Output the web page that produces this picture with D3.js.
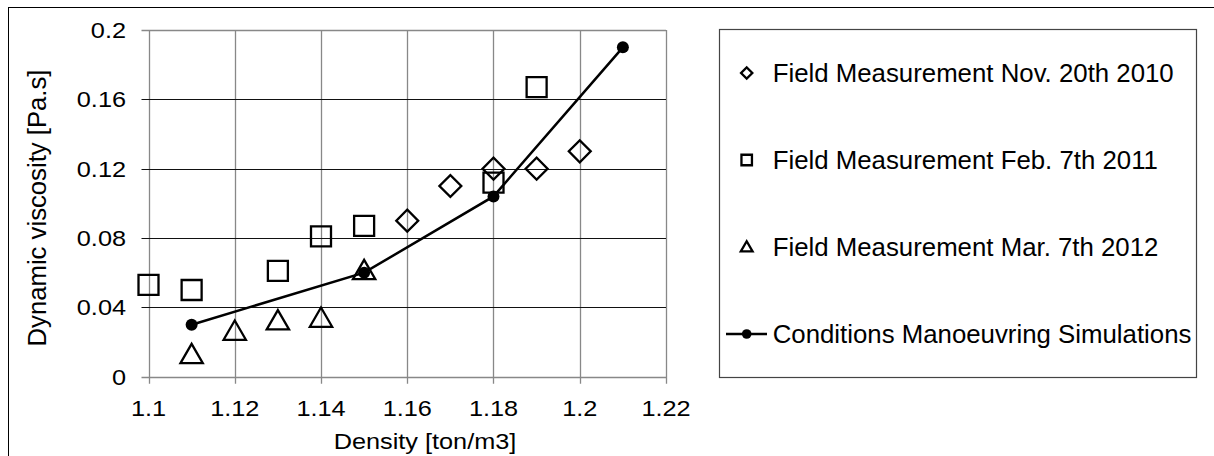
<!DOCTYPE html>
<html>
<head>
<meta charset="utf-8">
<script src="https://cdn.jsdelivr.net/npm/d3@7"></script>
<style>
  body { margin: 0; background: #fff; }
  svg { display: block; font-family: 'Liberation Sans', Arial, sans-serif; }
</style>
</head>
<body>
<div id="chart"></div>
<script>
// data
const nov2010 = [[1.16, 0.09], [1.17, 0.11], [1.18, 0.12], [1.19, 0.12], [1.2, 0.13]];
const feb2011 = [[1.1, 0.053], [1.11, 0.05], [1.13, 0.061], [1.14, 0.081], [1.15, 0.087], [1.18, 0.112], [1.19, 0.167]];
const mar2012 = [[1.11, 0.0115], [1.12, 0.025], [1.13, 0.031], [1.14, 0.0325], [1.15, 0.06]];
const simulations = [[1.11, 0.03], [1.15, 0.06], [1.18, 0.104], [1.21, 0.19]];

const xTicks = [1.1, 1.12, 1.14, 1.16, 1.18, 1.2, 1.22];
const yTicks = [0, 0.04, 0.08, 0.12, 0.16, 0.2];
const legendLabels = [
  'Field Measurement Nov. 20th 2010',
  'Field Measurement Feb. 7th 2011',
  'Field Measurement Mar. 7th 2012',
  'Conditions Manoeuvring Simulations'
];

const width = 1214;
const height = 456;
const sx = 1.15; // text in the picture is a bit wide

const svg = d3.select('#chart')
  .append('svg')
  .attr('width', width)
  .attr('height', height);

// outer frame, runs off the right and bottom edge
svg.append('rect')
  .attr('x', 8.5).attr('y', 7.5)
  .attr('width', 1300).attr('height', 600)
  .attr('fill', 'none').attr('stroke', '#000').attr('stroke-width', 1);

const x = d3.scaleLinear().domain([1.1, 1.22]).range([148.5, 666]);
const y = d3.scaleLinear().domain([0, 0.2]).range([376.7, 30]);

const grid = svg.append('g');

// vertical grid (grey)
grid.selectAll('.vgrid')
  .data(xTicks)
  .enter()
  .append('line')
  .attr('x1', (d) => Math.round(x(d)) + 0.5)
  .attr('x2', (d) => Math.round(x(d)) + 0.5)
  .attr('y1', y(0.2))
  .attr('y2', y(0) + 7)
  .attr('stroke', '#888')
  .attr('stroke-width', 1.3);

// horizontal grid, inner lines are black, top and bottom are grey
grid.selectAll('.hgrid')
  .data(yTicks)
  .enter()
  .append('line')
  .attr('x1', x(1.1) - 7)
  .attr('x2', x(1.22))
  .attr('y1', (d) => Math.round(y(d)) + 0.5)
  .attr('y2', (d) => Math.round(y(d)) + 0.5)
  .attr('stroke', (d) => (d === 0 || d === 0.2 ? '#888' : '#111'))
  .attr('stroke-width', (d) => (d === 0 || d === 0.2 ? 1.3 : 1));

// horizontally stretched text helper
const stretchText = (parent, tx, ty, str, anchor, size) => {
  parent.append('g')
    .attr('transform', `translate(${tx},${ty}) scale(${sx},1)`)
    .append('text')
    .attr('text-anchor', anchor)
    .attr('font-size', size)
    .attr('fill', '#000')
    .text(str);
};

const fmt = (d) => String(+d.toFixed(2));

yTicks.forEach((d) => stretchText(svg, 126, y(d) + 8, fmt(d), 'end', 22));
xTicks.forEach((d) => stretchText(svg, x(d), 416, fmt(d), 'middle', 22));

// axis titles
stretchText(svg, 425, 448.5, 'Density [ton/m3]', 'middle', 22);

svg.append('text')
  .attr('transform', 'translate(46,208) rotate(-90)')
  .attr('text-anchor', 'middle')
  .attr('font-size', 25.7)
  .attr('fill', '#000')
  .text('Dynamic viscosity [Pa.s]');

// markers
const squareSym = d3.symbol().type(d3.symbolSquare).size(400);
const diamondSym = d3.symbol().type(d3.symbolSquare).size(240);
const triangleSym = d3.symbol().type(d3.symbolTriangle).size(215);

const marks = svg.append('g')
  .attr('fill', 'none')
  .attr('stroke', '#000')
  .attr('stroke-width', 2.3);

marks.selectAll('.sq')
  .data(feb2011)
  .enter()
  .append('path')
  .attr('d', squareSym)
  .attr('transform', (d) => `translate(${x(d[0])},${y(d[1])})`);

marks.selectAll('.dm')
  .data(nov2010)
  .enter()
  .append('path')
  .attr('d', diamondSym)
  .attr('transform', (d) => `translate(${x(d[0])},${y(d[1])}) rotate(45)`);

marks.selectAll('.tr')
  .data(mar2012)
  .enter()
  .append('path')
  .attr('d', triangleSym)
  .attr('transform', (d) => `translate(${x(d[0])},${y(d[1])})`);

// simulation line with dots
const line = d3.line().x((d) => x(d[0])).y((d) => y(d[1]));

svg.append('path')
  .datum(simulations)
  .attr('d', line)
  .attr('fill', 'none')
  .attr('stroke', '#000')
  .attr('stroke-width', 2.5);

svg.selectAll('.dot')
  .data(simulations)
  .enter()
  .append('circle')
  .attr('cx', (d) => x(d[0]))
  .attr('cy', (d) => y(d[1]))
  .attr('r', 6)
  .attr('fill', '#000');

// legend
const legend = svg.append('g');

legend.append('rect')
  .attr('x', 719.5).attr('y', 29.5)
  .attr('width', 477).attr('height', 348)
  .attr('fill', '#fff')
  .attr('stroke', '#444')
  .attr('stroke-width', 1.2);

const rowY = d3.scalePoint().domain(legendLabels).range([73, 334]);
const mx = 746.7;

legend.append('path')
  .attr('d', d3.symbol().type(d3.symbolSquare).size(64))
  .attr('transform', `translate(${mx},${rowY(legendLabels[0])}) rotate(45)`)
  .attr('fill', 'none').attr('stroke', '#000').attr('stroke-width', 2.3);

legend.append('path')
  .attr('d', d3.symbol().type(d3.symbolSquare).size(110))
  .attr('transform', `translate(${mx},${rowY(legendLabels[1])})`)
  .attr('fill', 'none').attr('stroke', '#000').attr('stroke-width', 2.3);

legend.append('path')
  .attr('d', d3.symbol().type(d3.symbolTriangle).size(60))
  .attr('transform', `translate(${mx},${rowY(legendLabels[2]) + 1})`)
  .attr('fill', 'none').attr('stroke', '#000').attr('stroke-width', 2.3);

legend.append('line')
  .attr('x1', 726).attr('x2', 767)
  .attr('y1', rowY(legendLabels[3])).attr('y2', rowY(legendLabels[3]))
  .attr('stroke', '#000').attr('stroke-width', 2.5);

legend.append('circle')
  .attr('cx', mx).attr('cy', rowY(legendLabels[3]))
  .attr('r', 4.8).attr('fill', '#000');

legend.selectAll('.ltext')
  .data(legendLabels)
  .enter()
  .append('text')
  .attr('x', 772.7)
  .attr('y', (d) => rowY(d) + 9.2)
  .attr('font-size', 25.8)
  .attr('fill', '#000')
  .text((d) => d);
</script>
</body>
</html>
